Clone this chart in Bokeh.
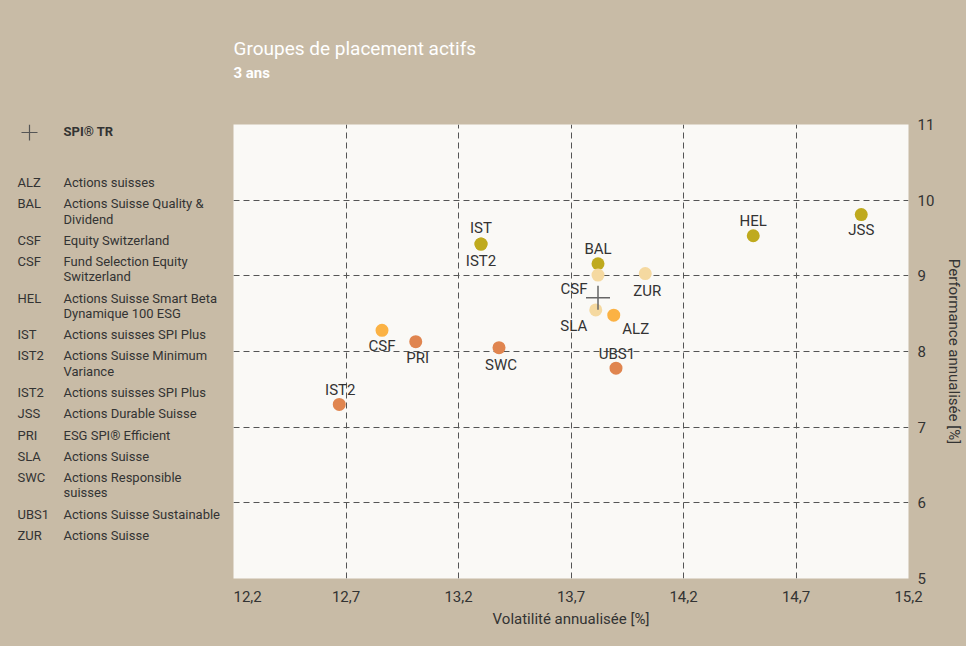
from bokeh.plotting import figure
from bokeh.layouts import column, row
from bokeh.models import ColumnDataSource, FixedTicker, Range1d
from bokeh.core.properties import value
from bokeh.embed import file_html
from bokeh.resources import INLINE

# ---------------- data ----------------
codes = ["IST", "IST2", "BAL", "CSF", "ZUR", "SLA", "ALZ", "UBS1", "SWC",
         "CSF", "PRI", "IST2", "HEL", "JSS"]
volatility = [13.30, 13.30, 13.82, 13.82, 14.03, 13.81, 13.89, 13.90, 13.38,
              12.86, 13.01, 12.67, 14.51, 14.99]
performance = [9.42, 9.42, 9.16, 9.01, 9.03, 8.55, 8.48, 7.78, 8.05,
               8.28, 8.13, 7.30, 9.53, 9.81]
groups = ["olive", "olive", "olive", "light", "light", "light", "orange", "dark",
          "dark", "orange", "dark", "dark", "olive", "olive"]

spi_name = "SPI® TR"
spi_vol = [13.82]
spi_perf = [8.71]

legend_codes = ["ALZ", "BAL", "CSF", "CSF", "HEL", "IST", "IST2", "IST2", "JSS",
                "PRI", "SLA", "SWC", "UBS1", "ZUR"]
legend_names = ["Actions suisses", "Actions Suisse Quality &\nDividend",
                "Equity Switzerland", "Fund Selection Equity\nSwitzerland",
                "Actions Suisse Smart Beta\nDynamique 100 ESG",
                "Actions suisses SPI Plus", "Actions Suisse Minimum\nVariance",
                "Actions suisses SPI Plus", "Actions Durable Suisse",
                "ESG SPI® Efficient", "Actions Suisse",
                "Actions Responsible\nsuisses", "Actions Suisse Sustainable",
                "Actions Suisse"]

x_ticks = [12.2, 12.7, 13.2, 13.7, 14.2, 14.7, 15.2]
x_tick_labels = ["12,2", "12,7", "13,2", "13,7", "14,2", "14,7", "15,2"]
y_ticks = [5, 6, 7, 8, 9, 10, 11]

title_text = "Groupes de placement actifs"
subtitle_text = "3 ans"
x_title = "Volatilité annualisée [%]"
y_title = "Performance annualisée [%]"

# ---------------- styles ----------------
palette = {"olive": "#BFAA1E", "light": "#F5D9A0", "orange": "#FBB244",
           "dark": "#E0854F"}
# label placement offsets (screen px) for each point label
label_dx = [0, 0, 0, -24, 2, -22, 22, 1, 2, 0, 2, 1, 0, 0]
label_dy = [-16, 17, -15, 14, 17, 16, 14, -14, 17, 16, 16, -14, -15, 15]

BG = "#C8BBA6"
FONT = "Roboto"
TXT = "#333333"

W, H = 966, 646
TOP_H = 110          # header strip height
LEG_W = 233          # legend column width
BODY_H = H - TOP_H
FRAME_TOP, FRAME_BOTTOM = 124, 578   # main plot frame (page px)


def blank(w, h, x0, x1, y0, y1):
    f = figure(width=w, height=h, x_range=Range1d(x0, x1),
               y_range=Range1d(y0, y1), x_axis_type=None, y_axis_type=None,
               min_border=0, output_backend="svg", toolbar_location=None,
               background_fill_color=BG, border_fill_color=BG,
               outline_line_color=None)
    f.xgrid.visible = False
    f.ygrid.visible = False
    return f


# ---------------- header ----------------
head = blank(W, TOP_H, 0, W, TOP_H, 0)
head.text([233], [48], text=[title_text], text_font=value(FONT),
          text_font_size="19px", text_color="white", text_baseline="middle")
head.text([233], [72], text=[subtitle_text], text_font=value(FONT),
          text_font_size="15px", text_font_style="bold", text_color="white",
          text_baseline="middle")

# ---------------- legend column (frame aligned to the main frame) --------
leg = blank(LEG_W, BODY_H, 0, LEG_W, FRAME_BOTTOM, FRAME_TOP)
leg.scatter([29], [132], marker="cross", size=16, line_color="#555555",
            line_width=1.2)
leg.text([63], [131], text=[spi_name], text_font=value(FONT),
         text_font_size="13px", text_font_style="bold", text_color=TXT,
         text_baseline="middle")
cx, cy, nx, ny, nt = [], [], [], [], []
y = 182
for c, n in zip(legend_codes, legend_names):
    cx.append(17)
    cy.append(y)
    lines = n.split("\n")
    for i, ln in enumerate(lines):
        nx.append(63)
        ny.append(y + 15.2 * i)
        nt.append(ln)
    y += 21.3 + 15.2 * (len(lines) - 1)
leg.text(cx, cy, text=legend_codes, text_font=value(FONT),
         text_font_size="13px", text_color=TXT, text_baseline="middle")
leg.text(nx, ny, text=nt, text_font=value(FONT), text_font_size="13px",
         text_color=TXT, text_baseline="middle")

# ---------------- main plot ----------------
p = figure(width=W - LEG_W, height=BODY_H, min_border_left=0,
           min_border_top=FRAME_TOP - TOP_H, min_border_bottom=H - FRAME_BOTTOM,
           min_border_right=53,
           x_range=Range1d(12.2, 15.2), y_range=Range1d(5, 11),
           y_axis_location="right", output_backend="svg",
           toolbar_location=None, background_fill_color="#FAF9F6",
           border_fill_color=BG, outline_line_color=None)

p.xaxis.ticker = FixedTicker(ticks=x_ticks)
p.xaxis.major_label_overrides = dict(zip(x_ticks, x_tick_labels))
p.yaxis.ticker = FixedTicker(ticks=y_ticks)
for ax in (p.xaxis, p.yaxis):
    ax.axis_line_color = None
    ax.major_tick_line_color = None
    ax.minor_tick_line_color = None
    ax.major_tick_in = 0
    ax.major_tick_out = 0
    ax.major_label_text_font = FONT
    ax.major_label_text_font_size = "15px"
    ax.major_label_text_color = TXT
    ax.axis_label_text_font = FONT
    ax.axis_label_text_font_size = "15px"
    ax.axis_label_text_font_style = "normal"
    ax.axis_label_text_color = TXT
p.xaxis.axis_label = x_title
p.yaxis.axis_label = y_title
p.xaxis.major_label_standoff = 12
p.xaxis.axis_label_standoff = 5
p.yaxis.major_label_standoff = 9
p.yaxis.axis_label_standoff = 8

for g in (p.xgrid, p.ygrid):
    g.grid_line_color = "#555555"
    g.grid_line_dash = "6 4"
    g.grid_line_width = 1

src = ColumnDataSource(dict(x=volatility, y=performance, code=codes,
                            color=[palette[g] for g in groups],
                            dx=label_dx, dy=label_dy))
p.scatter("x", "y", source=src, size=13, fill_color="color", line_color=None)
p.text("x", "y", text="code", source=src, x_offset="dx", y_offset="dy",
       text_align="center", text_baseline="middle", text_font=value(FONT),
       text_font_size="15px", text_color=TXT)

p.scatter(spi_vol, spi_perf, marker="cross", size=24, line_color="#666666",
          line_width=1.5)

layout = column(head, row(leg, p, spacing=0), spacing=0)
layout.background = BG

open("out.html", "w").write(file_html(layout, INLINE))
